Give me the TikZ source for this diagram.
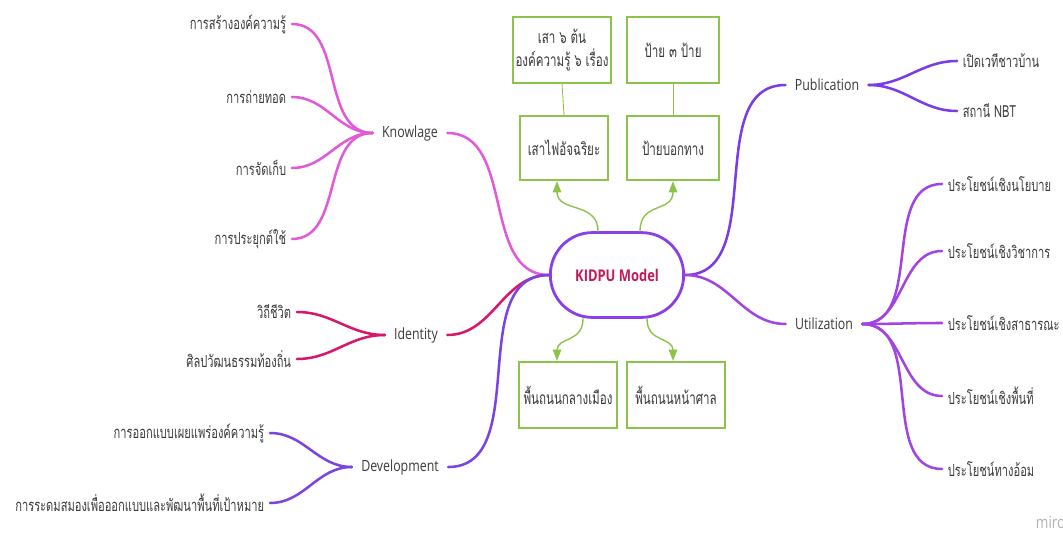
\documentclass[tikz,border=0pt]{standalone}
\usepackage{fontspec}
\setmainfont{Open Sans}[FakeStretch=0.8]
\newfontfamily\thaifont[Script=Thai,FakeStretch=0.67]{Loma}
\usetikzlibrary{arrows.meta,calc}
\definecolor{knowcol}{HTML}{E35AD9}
\definecolor{idcol}{HTML}{D6176A}
\definecolor{devcol}{HTML}{7B44E2}
\definecolor{pubcol}{HTML}{7A3CE6}
\definecolor{utilcol}{HTML}{A244E2}
\definecolor{hubcol}{HTML}{8A40E6}
\definecolor{modelcol}{HTML}{C21A5E}
\definecolor{grncol}{HTML}{8CC34B}
\definecolor{txtcol}{HTML}{3A3A3A}

\begin{document}
\begin{tikzpicture}[x=0.025cm,y=-0.025cm,line cap=round,
  topic/.style={font=\fontsize{11}{13}\selectfont,text=txtcol,inner xsep=6.5pt,inner ysep=2pt},
  leaf/.style={font=\thaifont\fontsize{11.8}{14}\selectfont,text=txtcol,inner xsep=4pt,inner ysep=2pt},
  gbox/.style={draw=grncol,line width=1.5pt,fill=white,align=center,
    font=\thaifont\fontsize{12.3}{16}\selectfont,text=txtcol,inner sep=2pt},
  gline/.style={grncol,line width=0.6pt},
  garrow/.style={grncol,line width=1pt,-{Triangle[width=6pt,length=8pt]}},
  branch/.style={line width=1.8pt}]
\useasboundingbox (0,0) rectangle (1063,538);
% ---------- centre ----------
\node[draw=hubcol,line width=2pt,fill=white,rounded corners=1.05cm,
  minimum width=3.33cm,minimum height=2.12cm,text=modelcol,
  font=\bfseries\fontsize{11.5}{14}\selectfont] (kidpu) at (617,275) {KIDPU Model};
% ---------- green boxes ----------
\node[gbox,minimum width=2.43cm,minimum height=1.63cm] (pole6) at (562,50) {เสา ๖ ต้น\\องค์ความรู้ ๖ เรื่อง};
\node[gbox,minimum width=2.3cm,minimum height=1.63cm] (sign3) at (673,50) {ป้าย ๓ ป้าย};
\node[gbox,minimum width=2.2cm,minimum height=1.6cm] (pole) at (564,148) {เสาไฟอัจฉริยะ};
\node[gbox,minimum width=2.28cm,minimum height=1.6cm] (sign) at (673,148) {ป้ายบอกทาง};
\node[gbox,minimum width=2.43cm,minimum height=1.65cm] (road1) at (568,395) {พื้นถนนกลางเมือง};
\node[gbox,minimum width=2.43cm,minimum height=1.65cm] (road2) at (676,395) {พื้นถนนหน้าศาล};
\draw[gline] (pole6.south) -- (pole.north);
\draw[gline] (sign3.south) -- (sign.north);
\draw[garrow] ($(kidpu.north)+(-19,0)$) .. controls +(0,-30) and +(0,32) .. ($(pole.south)+(-7,0)$);
\draw[garrow] ($(kidpu.north)+(23,0)$) .. controls +(0,-30) and +(0,32) .. (sign.south);
\draw[garrow] ($(kidpu.south)+(-34,0)$) .. controls +(0,24) and +(0,-24) .. ($(road1.north)+(-11,0)$);
\draw[garrow] ($(kidpu.south)+(30,0)$) .. controls +(0,24) and +(0,-24) .. ($(road2.north)+(-3,0)$);
% ---------- left topics ----------
\node[topic] (know) at (410,133) {Knowlage};
\node[topic] (ident) at (416,335) {Identity};
\node[topic] (dev) at (400,467) {Development};
\draw[branch,knowcol] (kidpu.west) to[out=180,in=0] (know.east);
\draw[branch,idcol] (kidpu.west) to[out=180,in=0] (ident.east);
\draw[branch,devcol] (kidpu.west) to[out=180,in=0] (dev.east);
\foreach \t/\y [count=\i] in {การสร้างองค์ความรู้/24,การถ่ายทอด/97,การจัดเก็บ/168,การประยุกต์ใช้/239}{
  \node[leaf,anchor=east] (k\i) at (292,\y) {\t};
  \draw[branch,knowcol] (know.west) to[out=180,in=0] (k\i.east);}
\foreach \t/\y [count=\i] in {วิถีชีวิต/312,ศิลปวัฒนธรรมท้องถิ่น/359}{
  \node[leaf,anchor=east] (d\i) at (297,\y) {\t};
  \draw[branch,idcol] (ident.west) to[out=180,in=0] (d\i.east);}
\foreach \t/\y [count=\i] in {การออกแบบเผยแพร่องค์ความรู้/433,การระดมสมองเพื่อออกแบบและพัฒนาพื้นที่เป้าหมาย/503}{
  \node[leaf,anchor=east] (v\i) at (270,\y) {\t};
  \draw[branch,devcol] (dev.west) to[out=180,in=0] (v\i.east);}
% ---------- right topics ----------
\node[topic] (pub) at (827,85) {Publication};
\node[topic] (util) at (824,324) {Utilization};
\draw[branch,pubcol] (kidpu.east) to[out=0,in=180] (pub.west);
\draw[branch,utilcol] (kidpu.east) to[out=0,in=180] (util.west);
\foreach \t/\y [count=\i] in {เปิดเวทีชาวบ้าน/61,สถานี NBT/111}{
  \node[leaf,anchor=west] (p\i) at (957,\y) {\t};
  \draw[branch,pubcol] (pub.east) to[out=0,in=180] (p\i.west);}
\foreach \t/\y [count=\i] in {ประโยชน์เชิงนโยบาย/184,ประโยชน์เชิงวิชาการ/251,ประโยชน์เชิงสาธารณะ/323,ประโยชน์เชิงพื้นที่/396,ประโยชน์ทางอ้อม/469}{
  \node[leaf,anchor=west] (u\i) at (942,\y) {\t};
  \draw[branch,utilcol] (util.east) to[out=0,in=180] (u\i.west);}
% ---------- watermark ----------
\begin{scope}
  \clip (0,0) rectangle (1063,538);
  \node[anchor=west,text=black!30,font=\fontsize{12}{14}\selectfont] (miro) at (1031,522) {miro};
\end{scope}
\end{tikzpicture}
\end{document}
